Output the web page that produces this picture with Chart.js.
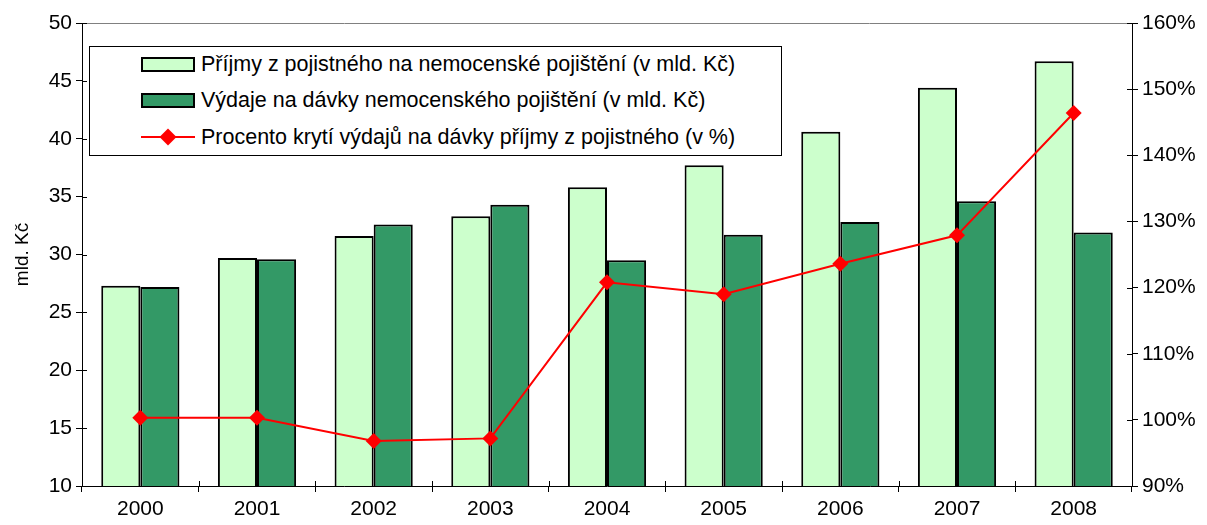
<!DOCTYPE html>
<html lang="cs">
<head>
<meta charset="UTF-8">
<title>Nemocenské pojištění</title>
<script src="https://cdn.jsdelivr.net/npm/chart.js"></script>
<style>
  body { margin: 0; background: #fff; font-family: "Liberation Sans", Arial, sans-serif; }
  .wrap { position: relative; width: 1207px; height: 525px; }
  .legend {
    position: absolute; left: 89px; top: 46px; width: 693px; height: 110px;
    border: 1px solid #000; background: #fff; box-sizing: border-box;
  }
  .legend .row { position: absolute; left: 0; height: 26px; font-size: 21.5px; line-height: 26px; color: #000; white-space: nowrap; }
  .legend .sym { position: absolute; left: 51px; top: 6px; width: 54px; height: 15px; border: 2px solid #000; box-sizing: border-box; }
  .legend .txt { position: absolute; left: 111px; top: 0; }
  .legend .ln { position: absolute; left: 51px; top: 12px; width: 54px; height: 2px; background: #f00; }
  .legend .dm { position: absolute; left: 72px; top: 7px; width: 12px; height: 12px; background: #f00; transform: rotate(45deg); }
</style>
</head>
<body>
<div class="wrap">
  <canvas id="chart" width="1207" height="525"></canvas>
  <div class="legend">
    <div class="row" style="top:4px"><div class="sym" style="background:#ccffcc"></div><span class="txt">Příjmy z pojistného na nemocenské pojištění (v mld. Kč)</span></div>
    <div class="row" style="top:40px"><div class="sym" style="background:#339966"></div><span class="txt">Výdaje na dávky nemocenského pojištění (v mld. Kč)</span></div>
    <div class="row" style="top:77px"><div class="ln"></div><div class="dm"></div><span class="txt">Procento krytí výdajů na dávky příjmy z pojistného (v %)</span></div>
  </div>
</div>
<script>
  const years = ['2000', '2001', '2002', '2003', '2004', '2005', '2006', '2007', '2008'];
  const prijmy = [27.3, 29.7, 31.6, 33.3, 35.8, 37.7, 40.6, 44.4, 46.7];
  const vydaje = [27.2, 29.6, 32.6, 34.3, 29.5, 31.7, 32.8, 34.6, 31.9];
  const kryti = [100.3, 100.3, 96.8, 97.2, 120.8, 119.0, 123.6, 127.9, 146.4];

  // gray top edge of plot area + tick marks crossing into the plot
  const frame = {
    id: 'frame',
    afterDraw(chart) {
      const a = chart.chartArea, c = chart.ctx;
      c.save();
      c.strokeStyle = '#808080';
      c.lineWidth = 1;
      c.beginPath();
      c.moveTo(a.left, a.top + 0.5);
      c.lineTo(a.right, a.top + 0.5);
      c.stroke();
      c.strokeStyle = '#000';
      c.beginPath();
      chart.scales.y.ticks.forEach(t => {
        const y = Math.round(chart.scales.y.getPixelForValue(t.value)) + 0.5;
        c.moveTo(a.left, y); c.lineTo(a.left + 5, y);
      });
      chart.scales.y1.ticks.forEach(t => {
        const y = Math.round(chart.scales.y1.getPixelForValue(t.value)) + 0.5;
        c.moveTo(a.right, y); c.lineTo(a.right - 5, y);
      });
      const x = chart.scales.x;
      for (let i = 0; i <= years.length; i++) {
        const px = Math.round(a.left + i * (a.right - a.left) / years.length) + 0.5;
        c.moveTo(px, a.bottom); c.lineTo(px, a.bottom - 5);
      }
      c.stroke();
      c.restore();
    }
  };

  const font = { family: '"Liberation Sans", Arial, sans-serif', size: 21 };

  new Chart(document.getElementById('chart'), {
    type: 'bar',
    data: {
      labels: years,
      datasets: [
        {
          type: 'line', label: 'Procento', data: kryti, yAxisID: 'y1',
          borderColor: '#ff0000', backgroundColor: '#ff0000', borderWidth: 2,
          pointStyle: 'rectRot', pointRadius: 8, pointBorderWidth: 0, order: 0
        },
        {
          label: 'Příjmy', data: prijmy, yAxisID: 'y',
          backgroundColor: '#ccffcc', borderColor: '#000', borderWidth: 2,
          categoryPercentage: 0.67, barPercentage: 1.0, order: 1
        },
        {
          label: 'Výdaje', data: vydaje, yAxisID: 'y',
          backgroundColor: '#339966', borderColor: '#000', borderWidth: 2,
          categoryPercentage: 0.67, barPercentage: 1.0, order: 1
        }
      ]
    },
    options: {
      responsive: false,
      animation: false,
      layout: { padding: { top: 23, bottom: 0, left: 0, right: 0 } },
      plugins: { legend: { display: false }, tooltip: { enabled: false } },
      scales: {
        x: {
          offset: true,
          grid: { offset: true, drawOnChartArea: false, tickLength: 6, color: '#000' },
          border: { color: '#000', width: 1 },
          ticks: { font: font, color: '#000', padding: 5 },
          afterFit(s) { s.height = 39; }
        },
        y: {
          position: 'left', min: 10, max: 50,
          ticks: { stepSize: 5, font: font, color: '#000', padding: 4 },
          grid: { drawOnChartArea: false, tickLength: 6, color: '#000' },
          border: { color: '#000', width: 1 },
          title: { display: true, text: 'mld. Kč', font: { family: font.family, size: 19 }, color: '#000', padding: { top: 11, bottom: 0 } },
          afterFit(s) { s.width = 82; }
        },
        y1: {
          position: 'right', min: 90, max: 160,
          ticks: { stepSize: 10, font: font, color: '#000', padding: 4, callback: v => v + '%' },
          grid: { drawOnChartArea: false, tickLength: 6, color: '#000' },
          border: { color: '#000', width: 1 },
          afterFit(s) { s.width = 75; }
        }
      }
    },
    plugins: [frame]
  });
</script>
</body>
</html>
